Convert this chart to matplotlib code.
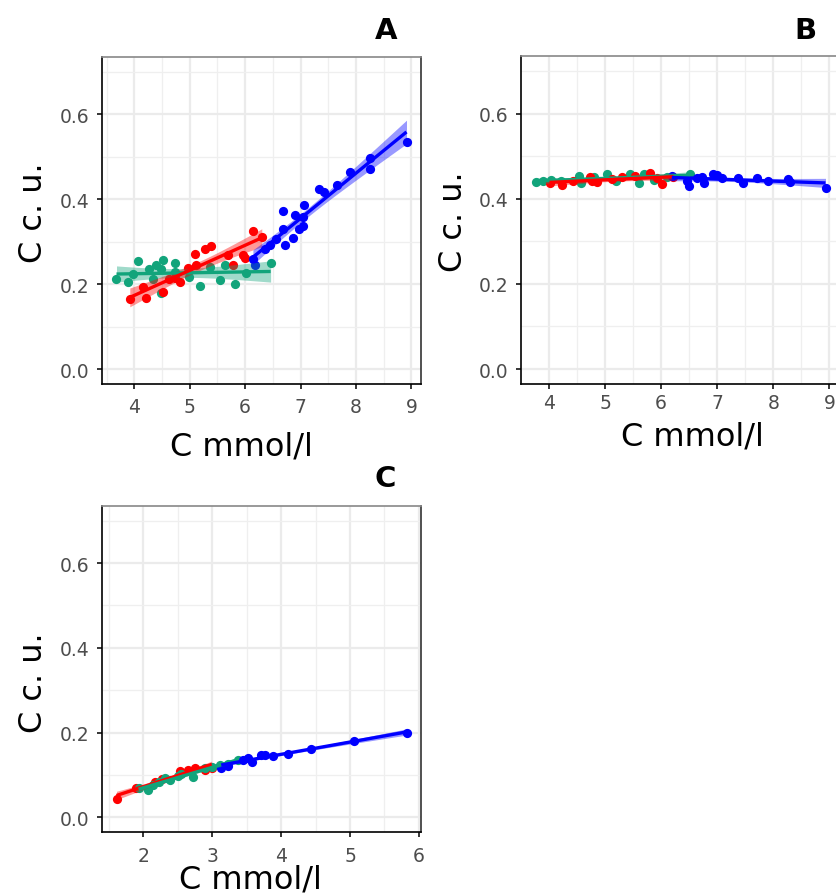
import matplotlib
matplotlib.use("Agg")
import matplotlib.pyplot as plt
import numpy as np
from matplotlib.ticker import MultipleLocator, FixedLocator

# group colours
RED = '#FF0000'
GREEN = '#12A47B'
BLUE = '#0000FF'

# ---- panel A ----
a_green_x = [3.68, 3.88, 3.98, 4.07, 4.26, 4.33, 4.40, 4.48, 4.51, 4.48, 4.73, 4.73, 4.98, 5.19, 5.36, 5.54, 5.63, 5.82, 6.02, 6.46]
a_green_y = [0.212, 0.206, 0.225, 0.254, 0.235, 0.212, 0.246, 0.236, 0.258, 0.180, 0.249, 0.229, 0.216, 0.196, 0.241, 0.209, 0.246, 0.201, 0.227, 0.251]
a_red_x = [3.92, 4.16, 4.21, 4.52, 4.62, 4.73, 4.82, 4.97, 5.09, 5.27, 5.39, 5.12, 5.69, 5.78, 5.96, 6.00, 6.14, 6.30]
a_red_y = [0.164, 0.194, 0.168, 0.182, 0.213, 0.215, 0.205, 0.237, 0.271, 0.282, 0.290, 0.246, 0.268, 0.245, 0.268, 0.262, 0.325, 0.311]
a_blue_x = [6.14, 6.17, 6.35, 6.44, 6.56, 6.69, 6.71, 6.69, 6.86, 6.90, 6.98, 7.04, 7.07, 7.05, 7.34, 7.43, 7.66, 7.89, 8.25, 8.25, 8.91]
a_blue_y = [0.259, 0.246, 0.284, 0.292, 0.307, 0.373, 0.292, 0.331, 0.309, 0.362, 0.331, 0.338, 0.387, 0.358, 0.425, 0.416, 0.433, 0.464, 0.496, 0.471, 0.536]

# ---- panel B ----
b_green_x = [3.76, 3.89, 4.04, 4.21, 4.54, 4.57, 4.80, 5.04, 5.19, 5.45, 5.60, 5.69, 5.87, 6.10, 6.52]
b_green_y = [0.440, 0.442, 0.443, 0.442, 0.453, 0.438, 0.451, 0.457, 0.442, 0.459, 0.438, 0.459, 0.443, 0.451, 0.459]
b_red_x = [4.01, 4.24, 4.42, 4.74, 4.86, 5.13, 5.31, 5.54, 5.81, 5.93, 6.02, 6.22, 4.77]
b_red_y = [0.436, 0.433, 0.442, 0.451, 0.440, 0.446, 0.451, 0.453, 0.461, 0.448, 0.434, 0.451, 0.442]
b_blue_x = [6.19, 6.46, 6.49, 6.64, 6.73, 6.76, 6.93, 6.99, 7.08, 7.37, 7.46, 7.70, 7.91, 8.26, 8.29, 8.93]
b_blue_y = [0.453, 0.442, 0.430, 0.449, 0.452, 0.438, 0.459, 0.455, 0.449, 0.449, 0.438, 0.449, 0.442, 0.446, 0.440, 0.426]

# ---- panel C ----
c_red_x = [1.61, 1.90, 2.17, 2.27, 2.53, 2.65, 2.75, 2.89, 2.99]
c_red_y = [0.043, 0.068, 0.082, 0.091, 0.109, 0.111, 0.115, 0.111, 0.117]
c_green_x = [1.93, 2.07, 2.14, 2.22, 2.31, 2.39, 2.51, 2.55, 2.72, 2.89, 2.99, 3.11, 3.23, 3.37, 2.07]
c_green_y = [0.068, 0.064, 0.076, 0.082, 0.093, 0.087, 0.098, 0.101, 0.095, 0.115, 0.119, 0.124, 0.126, 0.135, 0.070]
c_blue_x = [3.13, 3.45, 3.57, 3.71, 3.76, 3.88, 4.10, 4.43, 5.06, 5.82, 3.23, 3.52]
c_blue_y = [0.117, 0.135, 0.131, 0.146, 0.148, 0.145, 0.150, 0.162, 0.180, 0.198, 0.121, 0.139]

y_ticks = [0.0, 0.2, 0.4, 0.6]
y_tick_labels = ['0.0', '0.2', '0.4', '0.6']

W, H = 836, 895
fig = plt.figure(figsize=(W / 100, H / 100), dpi=100)
plt.rcParams['font.family'] = 'DejaVu Sans'


def box(l, t, r, b):
    return [l / W, 1 - b / H, (r - l) / W, (b - t) / H]


def at(x, y):
    return x / W, 1 - y / H


def lm_band(ax, x, y, color):
    # linear fit with 95% confidence band, like geom_smooth(method = "lm")
    x = np.asarray(x, float)
    y = np.asarray(y, float)
    n = len(x)
    k, c = np.polyfit(x, y, 1)
    xs = np.linspace(x.min(), x.max(), 80)
    fit = k * xs + c
    resid = y - (k * x + c)
    s = np.sqrt(np.sum(resid ** 2) / (n - 2))
    se = s * np.sqrt(1 / n + (xs - x.mean()) ** 2 / np.sum((x - x.mean()) ** 2))
    ax.fill_between(xs, fit - 2.1 * se, fit + 2.1 * se, color=color, alpha=0.4, lw=0, zorder=3)
    ax.plot(xs, fit, color=color, lw=2.4, zorder=4, solid_capstyle='butt')


def panel(rect, groups, xpad):
    ax = fig.add_axes(rect)
    allx = np.concatenate([g[0] for g in groups])
    lo, hi = allx.min(), allx.max()
    for gx, gy, col in groups:
        ax.scatter(gx, gy, s=44, color=col, lw=0, zorder=2)
    for gx, gy, col in groups:
        lm_band(ax, gx, gy, col)
    span = hi - lo
    ax.set_xlim(lo - 0.05 * span, hi + 0.05 * span)
    ax.set_ylim(-0.035, 0.735)
    ax.xaxis.set_major_locator(MultipleLocator(1))
    ax.xaxis.set_minor_locator(MultipleLocator(0.5))
    ax.yaxis.set_major_locator(FixedLocator(y_ticks))
    ax.set_yticklabels(y_tick_labels)
    ax.yaxis.set_minor_locator(FixedLocator([0.1, 0.3, 0.5, 0.7]))
    ax.grid(which='major', color='#EBEBEB', lw=1.6, zorder=0)
    ax.grid(which='minor', color='#EFEFEF', lw=0.9, zorder=0)
    ax.set_axisbelow(True)
    ax.tick_params(which='major', length=3.8, width=1.1, color='black',
                   labelsize=13.5, labelcolor='#4D4D4D')
    ax.tick_params(axis='y', pad=5)
    ax.tick_params(axis='x', pad=xpad)
    ax.tick_params(which='minor', length=0)
    ax.spines['left'].set_color('black')
    ax.spines['bottom'].set_color('black')
    ax.spines['top'].set_color('#888888')
    ax.spines['right'].set_color('#333333')
    for sp in ax.spines.values():
        sp.set_linewidth(1.2)
    return ax


panel(box(102, 58, 421, 385),
      [(a_green_x, a_green_y, GREEN), (a_red_x, a_red_y, RED), (a_blue_x, a_blue_y, BLUE)], 5.5)
panel(box(521, 57, 840, 385),
      [(b_green_x, b_green_y, GREEN), (b_red_x, b_red_y, RED), (b_blue_x, b_blue_y, BLUE)], 2.5)
panel(box(102, 507, 421, 833),
      [(c_red_x, c_red_y, RED), (c_green_x, c_green_y, GREEN), (c_blue_x, c_blue_y, BLUE)], 6)

# panel letters
for letter, x, y in [('A', 386, 39), ('B', 805, 39), ('C', 385, 487)]:
    fig.text(*at(x, y), letter, fontsize=21, fontweight='bold', ha='center', va='baseline')

# axis titles
for x, y in [(241, 456), (692, 446), (250, 889)]:
    fig.text(*at(x, y), 'C mmol/l', fontsize=23, ha='center', va='baseline')
for x, y in [(42, 213), (462, 222), (42, 683)]:
    fig.text(*at(x, y), 'C c. u.', fontsize=23, rotation=90, rotation_mode='anchor',
             ha='center', va='baseline')

fig.savefig('out.png', dpi=100)
